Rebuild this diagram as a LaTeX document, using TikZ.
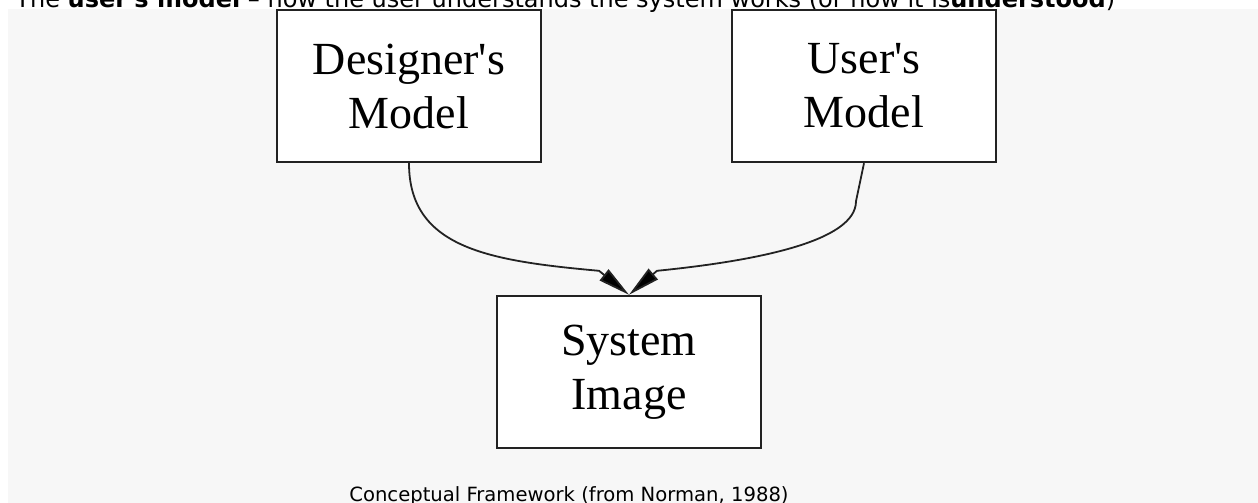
\documentclass[tikz,border=0pt]{standalone}
\usepackage{fontspec}
\newfontfamily\boxfont{Liberation Serif}
\newfontfamily\capfont{DejaVu Sans}
\definecolor{panelcolor}{HTML}{F7F7F7}
\definecolor{linecolor}{HTML}{222222}
\usetikzlibrary{arrows.meta,calc}
\tikzset{
	block/.style={
		rectangle,
		draw=linecolor,
		line width=1.2pt,
		fill=white,
		minimum width=132pt,
		minimum height=76pt,
		align=center,
		font=\boxfont\fontsize{23}{27}\selectfont
	},
	edge/.style={
		draw=linecolor,
		line width=0.9pt,
		-{Triangle[length=16pt,width=7pt,fill=black]}
	},
	caption/.style={
		inner sep=0pt,
		anchor=base,
		font=\capfont\fontsize{9.8}{12}\selectfont
	},
}

\begin{document}
\begin{tikzpicture}[x=0.5pt,y=-0.5pt]
		\useasboundingbox (0,0) rectangle (1258,503);
		\clip (0,0) rectangle (1258,503);
		\fill [panelcolor] (8,9) rectangle (1258,503);
		\node (intro) [caption,anchor=base west,font=\capfont\fontsize{12}{14}\selectfont] at (15,7) {The \textbf{user's model} – how the user understands the system works (or how it is\textbf{understood})};
		
		\node (designer) [block] at (409,86) {Designer's\\Model};
		\node (user) [block] at (864,86) {User's\\Model};
		\node (image) [block] at (629,372) {System\\Image};
		\node (norman) [caption] at (569,501) {Conceptual Framework (from Norman, 1988)};
		
		\draw [edge] (designer.south) .. controls +(0,85) and +(-110,-10) .. ($(image.north)+(-30,-24)$) -- (image.north);
		\draw [edge,{Triangle[length=16pt,width=7pt,fill=black]}-] (image.north) -- ++(28,-24) .. controls +(100,-10) and +(0,40) .. ($(user.south)+(-8,38)$) -- (user.south);
		
		\end{tikzpicture}
\end{document}
